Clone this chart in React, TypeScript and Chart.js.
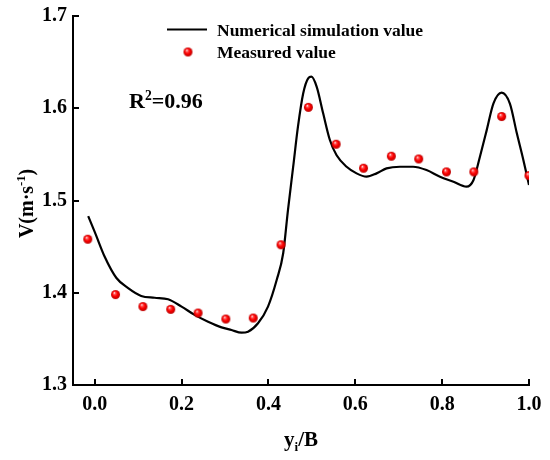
import { useEffect, useRef } from "react";
import { Chart, registerables } from "chart.js";

Chart.register(...registerables);

// Numerical simulation curve (x = yi/B, y = V)
const simX = [
  -0.015, 0.0, 0.023, 0.05, 0.077, 0.107, 0.138, 0.169, 0.2, 0.23, 0.261, 0.292, 0.315, 0.338,
  0.353, 0.376, 0.399, 0.419, 0.434, 0.445, 0.457, 0.468, 0.48, 0.4915, 0.499, 0.511, 0.526,
  0.5415, 0.557, 0.58, 0.603, 0.626, 0.649, 0.672, 0.703, 0.733, 0.764, 0.795, 0.826, 0.856,
  0.872, 0.887, 0.9025, 0.918, 0.937, 0.956, 0.972, 0.987, 1.0,
];
const simY = [
  1.483, 1.466, 1.439, 1.416, 1.405, 1.3965, 1.3946, 1.393, 1.385, 1.376, 1.3686, 1.3625, 1.3596,
  1.3567, 1.3578, 1.3669, 1.385, 1.4138, 1.4428, 1.4897, 1.5366, 1.58, 1.616, 1.6325, 1.6342,
  1.6234, 1.5945, 1.5656, 1.549, 1.5366, 1.5294, 1.5258, 1.5294, 1.5348, 1.5366, 1.5366, 1.533,
  1.5258, 1.5204, 1.515, 1.522, 1.5475, 1.576, 1.605, 1.6169, 1.605, 1.5728, 1.5439, 1.5168,
];

// Measured values
const measX = [
  -0.016, 0.048, 0.111, 0.175, 0.238, 0.302, 0.365, 0.429, 0.492, 0.556, 0.619, 0.683, 0.746,
  0.81, 0.873, 0.937, 1.0,
];
const measY = [
  1.458, 1.398, 1.385, 1.382, 1.378, 1.3715, 1.3726, 1.452, 1.601, 1.561, 1.535, 1.548, 1.545,
  1.531, 1.531, 1.591, 1.527,
];

const xTicks = [0.0, 0.2, 0.4, 0.6, 0.8, 1.0];
const yTicks = [1.3, 1.4, 1.5, 1.6, 1.7];
const xRange = [-0.05, 1.0];
const yRange = [1.3, 1.7];
const legendLabels = ["Numerical simulation value", "Measured value"];
const r2Value = "0.96";

const FONT = '"Liberation Serif", "Times New Roman", serif';

type Part = { t: string; sup?: boolean; sub?: boolean };

function richWidth(ctx: CanvasRenderingContext2D, parts: Part[], size: number) {
  let w = 0;
  for (const p of parts) {
    const s = p.sup || p.sub ? size * 0.62 : size;
    ctx.font = `bold ${s}px ${FONT}`;
    w += ctx.measureText(p.t).width;
  }
  return w;
}

function drawRich(
  ctx: CanvasRenderingContext2D,
  parts: Part[],
  x: number,
  y: number,
  size: number,
  align: "left" | "center"
) {
  const w = richWidth(ctx, parts, size);
  let cx = align === "center" ? x - w / 2 : x;
  ctx.textAlign = "left";
  ctx.textBaseline = "alphabetic";
  ctx.fillStyle = "#000";
  for (const p of parts) {
    const s = p.sup || p.sub ? size * 0.62 : size;
    ctx.font = `bold ${s}px ${FONT}`;
    const dy = p.sup ? -size * 0.38 : p.sub ? size * 0.22 : 0;
    ctx.fillText(p.t, cx, y + dy);
    cx += ctx.measureText(p.t).width;
  }
}

function makeSphere(r: number) {
  const c = document.createElement("canvas");
  const s = Math.ceil(r * 2) + 2;
  c.width = s;
  c.height = s;
  const g = c.getContext("2d")!;
  const cx = s / 2;
  const cy = s / 2;
  const grad = g.createRadialGradient(cx - r * 0.3, cy - r * 0.4, 0.2, cx, cy, r);
  grad.addColorStop(0, "#ffffff");
  grad.addColorStop(0.22, "#ff5a5a");
  grad.addColorStop(0.55, "#ff0000");
  grad.addColorStop(1, "#b80000");
  g.fillStyle = grad;
  g.beginPath();
  g.arc(cx, cy, r, 0, Math.PI * 2);
  g.fill();
  return c;
}

const decorPlugin = {
  id: "decor",
  afterDraw(chart: any) {
    const ctx: CanvasRenderingContext2D = chart.ctx;
    const xs = chart.scales["x"];
    const ys = chart.scales["y"];
    ctx.save();

    // inward tick marks (reinforce the scale's own tick marks)
    ctx.fillStyle = "#000000";
    const bottom = Math.round(xs.top);
    const left = Math.round(ys.right);
    xs.ticks.forEach((t: any) => {
      const px = Math.round(xs.getPixelForValue(t.value));
      ctx.fillRect(px - 1, bottom - 6, 2, 7);
    });
    ys.ticks.forEach((t: any) => {
      const py = Math.round(ys.getPixelForValue(t.value));
      ctx.fillRect(left - 1, py - 1, 7, 2);
    });

    // axis titles
    drawRich(ctx, [{ t: "y" }, { t: "i", sub: true }, { t: "/B" }], (xs.left + xs.right) / 2, 446, 21, "center");
    ctx.save();
    ctx.translate(33, (ys.top + ys.bottom) / 2 + 3);
    ctx.rotate(-Math.PI / 2);
    drawRich(ctx, [{ t: "V(m·s" }, { t: "-1", sup: true }, { t: ")" }], 0, 0, 20, "center");
    ctx.restore();

    // R^2 annotation
    drawRich(ctx, [{ t: "R" }, { t: "2", sup: true }, { t: "=" + r2Value }], 129, 108, 22, "left");

    // legend
    ctx.fillStyle = "#000";
    ctx.fillRect(167, 28.5, 40, 2);
    const sph = chart.data.datasets[1].pointStyle as HTMLCanvasElement;
    ctx.drawImage(sph, 188 - sph.width / 2, 52 - sph.height / 2);
    ctx.fillStyle = "#000";
    ctx.font = `bold 17.5px ${FONT}`;
    ctx.textAlign = "left";
    ctx.textBaseline = "alphabetic";
    ctx.fillText(legendLabels[0], 217, 36);
    ctx.fillText(legendLabels[1], 217, 58);
    ctx.restore();
  },
};

export default function App() {
  const ref = useRef<HTMLCanvasElement | null>(null);

  useEffect(() => {
    document.body.style.margin = "0";
    const canvas = ref.current;
    if (!canvas) return;
    const sphere = makeSphere(4.5);
    const tickFont = { family: FONT, size: 20, weight: "bold" as const };
    const inwardGrid = {
      display: true,
      drawOnChartArea: false,
      drawTicks: true,
      tickLength: -6,
      tickWidth: 2,
      tickColor: "#000",
      color: "#000",
      lineWidth: 2,
    };
    const chart = new Chart(canvas, {
      type: "scatter",
      data: {
        datasets: [
          {
            label: legendLabels[0],
            data: simX.map((x, i) => ({ x, y: simY[i] })),
            showLine: true,
            borderColor: "#000",
            backgroundColor: "#000",
            borderWidth: 2.2,
            pointRadius: 0,
            pointHoverRadius: 0,
            cubicInterpolationMode: "monotone",
            order: 2,
          } as any,
          {
            label: legendLabels[1],
            data: measX.map((x, i) => ({ x, y: measY[i] })),
            showLine: false,
            pointStyle: sphere,
            pointRadius: 4.5,
            order: 1,
          } as any,
        ],
      },
      options: {
        responsive: false,
        animation: false,
        events: [],
        layout: { padding: { top: 16, right: 21, left: 0, bottom: 0 } },
        plugins: {
          legend: { display: false },
          tooltip: { enabled: false },
          title: { display: false },
        },
        scales: {
          x: {
            type: "linear",
            min: xRange[0],
            max: xRange[1],
            afterBuildTicks: (s: any) => {
              s.ticks = xTicks.map((v) => ({ value: v }));
            },
            afterFit: (s: any) => {
              s.height = 75;
              s.paddingLeft = 0;
              s.paddingRight = 0;
            },
            ticks: {
              font: tickFont,
              color: "#000",
              padding: 14,
              autoSkip: false,
              maxRotation: 0,
              callback: (v: any) => Number(v).toFixed(1),
            },
            grid: inwardGrid,
            border: { display: true, color: "#000", width: 2 },
          },
          y: {
            type: "linear",
            min: yRange[0],
            max: yRange[1],
            afterBuildTicks: (s: any) => {
              s.ticks = yTicks.map((v) => ({ value: v }));
            },
            afterFit: (s: any) => {
              s.width = 73;
              s.paddingTop = 0;
              s.paddingBottom = 0;
            },
            ticks: {
              font: tickFont,
              color: "#000",
              padding: 12,
              autoSkip: false,
              callback: (v: any) => Number(v).toFixed(1),
            },
            grid: inwardGrid,
            border: { display: true, color: "#000", width: 2 },
          },
        },
      },
      plugins: [decorPlugin],
    });
    return () => chart.destroy();
  }, []);

  return (
    <div style={{ width: 550, height: 460, background: "#fff" }}>
      <canvas ref={ref} width={550} height={460} style={{ display: "block" }} />
    </div>
  );
}
